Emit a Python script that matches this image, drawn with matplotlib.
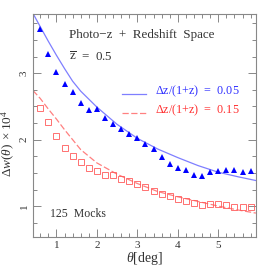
import matplotlib
matplotlib.use('Agg')
import matplotlib.pyplot as plt
from matplotlib.ticker import MultipleLocator

plt.rcParams['font.family'] = ['Liberation Serif', 'DejaVu Serif']
plt.rcParams['mathtext.fontset'] = 'custom'
plt.rcParams['mathtext.rm'] = 'Liberation Serif'
plt.rcParams['mathtext.it'] = 'Liberation Serif:italic'

# Mock measurements
theta = [0.6, 0.8, 1.0, 1.2, 1.4, 1.6, 1.8, 2.0, 2.2, 2.4, 2.6, 2.8, 3.0,
         3.2, 3.4, 3.6, 3.8, 4.0, 4.2, 4.4, 4.6, 4.8, 5.0, 5.2, 5.4, 5.6, 5.8]
dw_005 = [3.66, 3.29, 3.02, 2.84, 2.71, 2.55, 2.45, 2.46, 2.32, 2.24, 2.16,
          2.08, 2.02, 1.93, 1.86, 1.74, 1.63, 1.58, 1.55, 1.47, 1.46, 1.51,
          1.53, 1.55, 1.55, 1.52, 1.53]
dw_015 = [2.47, 2.26, 2.06, 1.88, 1.76, 1.66, 1.58, 1.53, 1.47, 1.47, 1.41,
          1.38, 1.34, 1.29, 1.23, 1.18, 1.15, 1.11, 1.08, 1.05, 1.01, 1.03,
          1.03, 1.01, 0.99, 0.99, 0.98]

# Model curves
theta_model = [0.42, 0.6, 0.8, 1.0, 1.2, 1.4, 1.6, 2.0, 2.5, 3.0, 3.5, 4.0,
               4.5, 5.0, 5.5, 5.93]
model_005 = [3.90, 3.70, 3.48, 3.27, 3.07, 2.88, 2.73, 2.49, 2.23, 2.02, 1.86,
             1.73, 1.61, 1.51, 1.44, 1.385]
model_015 = [2.74, 2.62, 2.46, 2.31, 2.15, 2.00, 1.85, 1.65, 1.48, 1.34, 1.22,
             1.14, 1.07, 1.00, 0.94, 0.895]

fig = plt.figure(figsize=(2.66, 2.66), dpi=100)
ax = fig.add_axes([0.124, 0.109, 0.838, 0.838])

ax.plot(theta_model, model_005, color='#7f7fff', lw=0.9)
ax.plot(theta_model, model_015, color='#ff8080', lw=0.9, dashes=(5, 2))
ax.plot(theta, dw_005, '^', color='#0000ff', ms=4, mew=0)
ax.plot(theta, dw_015, 's', mfc='none', mec='#ff5a5a', ms=3.8, mew=0.6)

ax.set_xlim(0.42, 5.93)
ax.set_ylim(0.535, 3.89)
ax.xaxis.set_major_locator(MultipleLocator(1))
ax.xaxis.set_minor_locator(MultipleLocator(0.2))
ax.yaxis.set_major_locator(MultipleLocator(1))
ax.yaxis.set_minor_locator(MultipleLocator(0.25))
ax.tick_params(which='both', direction='in', top=True, right=True,
               color='#888888', width=0.7, labelsize=8, labelcolor='#333333')
ax.tick_params(which='major', length=6)
ax.tick_params(which='minor', length=3)
ax.tick_params(axis='x', pad=3)
ax.tick_params(axis='y', pad=3)
for lbl in ax.get_yticklabels():
    lbl.set_rotation(90)
    lbl.set_va('center')
for s in ax.spines.values():
    s.set_color('#888888')
    s.set_linewidth(0.8)

ax.set_xlabel(r'$\theta$[deg]', fontsize=10, color='#333333', labelpad=0)
ax.set_ylabel(r'$\Delta w(\theta)\ \times 10^4$', fontsize=9.5,
              color='#333333')
ax.yaxis.set_label_coords(-0.07, 0.42)

fig.text(69 / 266, 1 - 35 / 266, 'Photo\u2212z  +  Redshift  Space',
         fontsize=9.4, color='#333333', va='center', ha='left')
fig.text(69 / 266, 1 - 57 / 266, r'$\overline{\mathrm{z}}$  =  0.5',
         fontsize=9.4, color='#333333', va='center', ha='left')
fig.text(50 / 266, 1 - 214 / 266, '125  Mocks', fontsize=8.5,
         color='#333333', va='center', ha='left')

# legend drawn by hand to match the layout
fig.add_artist(plt.Line2D([122 / 266, 146 / 266], [1 - 94 / 266, 1 - 94 / 266],
                          color='#7f7fff', lw=0.9))
fig.add_artist(plt.Line2D([122 / 266, 146 / 266], [1 - 113 / 266, 1 - 113 / 266],
                          color='#ff8080', lw=0.9, dashes=(5, 2)))
fig.text(155 / 266, 1 - 91 / 266, r'$\Delta$z/(1+z)  =  0.05', fontsize=8.7,
         color='#3030ff', va='center', ha='left')
fig.text(155 / 266, 1 - 110 / 266, r'$\Delta$z/(1+z)  =  0.15', fontsize=8.7,
         color='#ff3030', va='center', ha='left')

fig.savefig('out.png', dpi=100)
